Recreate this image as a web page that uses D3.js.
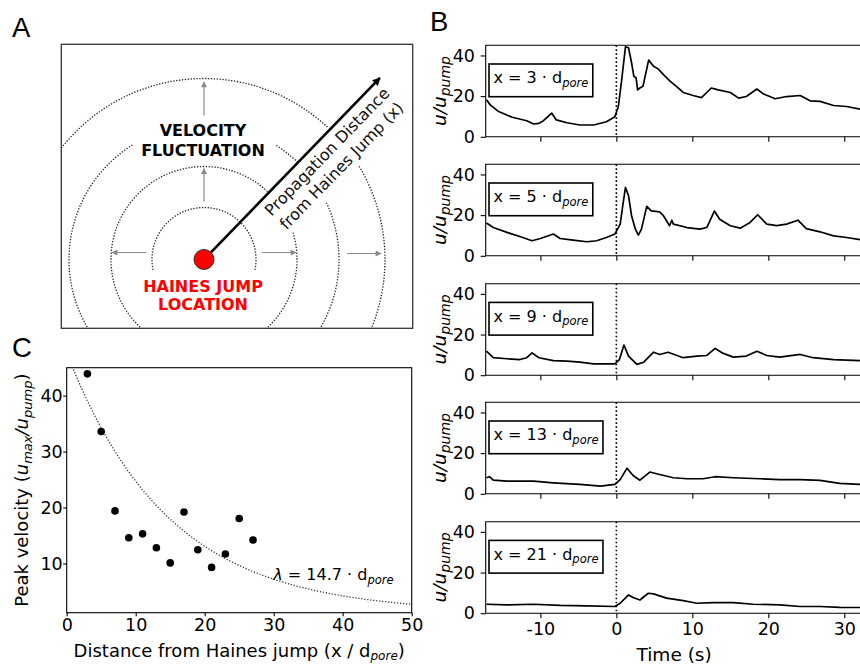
<!DOCTYPE html>
<html>
<head>
<meta charset="utf-8">
<script src="https://cdn.jsdelivr.net/npm/d3@7"></script>
<style>
  body { margin: 0; background: #fff; }
  svg { font-family: "DejaVu Sans", sans-serif; }
</style>
</head>
<body>
<script>
// ---- data ----
// panel B: velocity traces (time s, u/u_pump), one per distance
const trace3 = [[-17.1,18.2],[-16.6,15.7],[-15.5,12.4],[-13.7,9.6],[-11.8,7.9],[-10.9,6.3],[-10.2,6.6],[-9.6,7.9],[-8.5,11.6],[-7.9,8.3],[-6.5,6.9],[-4.8,5.8],[-3.0,5.8],[-1.3,7.4],[-0.2,9.9],[0.26,14.9],[0.7,28],[1.2,44.3],[1.6,43.8],[2.0,36.4],[2.3,29.8],[2.6,28.9],[2.8,23.1],[3.1,24],[3.5,24.8],[4.25,37.7],[4.9,34.7],[5.5,33.4],[6.2,30.6],[7.1,27.3],[7.9,24.8],[8.8,21.8],[10.1,20.3],[11.2,19.3],[12.5,24],[13.4,23.1],[15,21.8],[16.1,19],[17.1,19.8],[18.5,23.5],[19.3,21.2],[20.9,18.7],[22.4,19.8],[24.2,20.3],[25.5,17.7],[26.8,17.4],[28.6,15.4],[30.3,14.9],[32.1,13.6]];
const trace5 = [[-17.1,16.1],[-16.2,13.9],[-14.4,11.5],[-12.7,9.5],[-11.1,7.4],[-10.0,8.5],[-8.3,10.7],[-7.4,8.5],[-5.7,7.7],[-3.9,6.9],[-2.6,7.4],[-1.3,9.0],[-0.2,10.7],[0.5,15.6],[0.9,26.2],[1.2,33.6],[1.6,29.5],[2.0,19.7],[2.5,13.1],[2.9,10.2],[3.3,13.1],[4.0,24.3],[4.6,22.1],[5.7,21.6],[6.2,19.7],[7.0,14.8],[7.3,17.5],[7.5,15.6],[9.3,13.9],[11.0,13.1],[11.9,13.9],[12.9,22],[13.6,18],[15,14.8],[16.3,13.6],[17.6,16.4],[18.6,20.2],[19.8,15.6],[21.1,14.8],[22.4,15.6],[23.9,17.5],[25,13.4],[26.8,11.8],[28.6,9.8],[30.3,9.0],[32.1,7.9]];
const trace9 = [[-17.1,11.8],[-16.2,8.6],[-14.4,8.1],[-12.7,7.7],[-11.8,8.6],[-11.1,11],[-10.2,8.6],[-8.3,7.2],[-6.5,6.9],[-4.8,6.4],[-3.0,5.6],[-1.3,5.6],[-0.2,5.6],[0.4,7.7],[1.0,14.8],[1.6,9.4],[2.7,5.3],[3.6,6.4],[4.9,11.3],[5.7,10.2],[6.8,11.3],[8.8,8.6],[10.6,9.4],[11.9,9.7],[13.0,13.2],[13.9,11],[15.4,8.9],[17.1,9.4],[18.5,11.8],[19.8,9.7],[21.5,8.9],[24.2,10.2],[25.9,8.6],[28.6,7.7],[32.1,7.2]];
const trace13 = [[-17.1,7.9],[-16.7,8.4],[-16.2,6.7],[-14.4,6.2],[-10.9,6.2],[-8.3,5.4],[-4.8,4.6],[-2.1,3.8],[-0.2,4.6],[0.5,7.0],[1.4,12.6],[2.2,9.0],[3.1,6.7],[4.4,10.7],[5.7,9.5],[7.5,7.9],[9.3,7.4],[11.4,7.4],[13.0,8.4],[15.4,7.9],[18.9,7.4],[21.5,7.0],[24.2,7.0],[26.8,6.6],[29.4,5.1],[32.1,4.6]];
const trace21 = [[-17.1,4.4],[-14.4,4.1],[-10.9,4.4],[-7.4,3.8],[-3.9,3.6],[-0.2,3.3],[0.5,4.9],[1.6,9.0],[2.2,7.7],[3.1,6.5],[4.2,9.8],[4.9,9.5],[6.6,7.4],[8.8,6.2],[10.6,4.9],[12.8,5.2],[15.4,5.2],[18.0,4.4],[21.5,4.1],[24.2,3.3],[26.8,3.3],[29.4,2.9],[32.1,2.8]];
const traceDistances = ["3", "5", "9", "13", "21"];
const timeTicks = [-10, 0, 10, 20, 30];
const velTicks = [0, 20, 40];

// panel C: peak velocity vs distance
const distances = [3, 5, 7, 9, 11, 13, 15, 17, 19, 21, 23, 25, 27];
const peakVel = [43.9, 33.6, 19.4, 14.6, 15.3, 12.8, 10.1, 19.2, 12.45, 9.3, 11.7, 18.05, 14.2];
const distTicks = [0, 10, 20, 30, 40, 50];
const peakTicks = [10, 20, 30, 40];
// exponential fit  y = A exp(-x / lambda) + c
const fitA = 46.5, fitLambda = 14.7, fitC = 1.15;

// panel A schematic: rings (radius, drawn angle ranges in degrees ccw from +x)
const ringRadii = [52, 93, 135, 181];
const ringSegments = [[[-11.6, 191.6]], [[47, 377.7]], [[46, 58], [122, 385.5]], [[47, 391.5]]];

const width = 860, height = 665;
const svg = d3.select("body").append("svg").attr("width", width).attr("height", height);

// subscript helper
function rich(sel, parts, size, subSize) {
  let down = false;
  parts.forEach(p => {
    const ts = sel.append("tspan").text(p.t);
    if (p.sub) {
      ts.attr("font-size", subSize).attr("dy", down ? 0 : subSize * 0.32);
      down = true;
    } else {
      ts.attr("font-size", size).attr("dy", down ? -subSize * 0.32 : 0);
      down = false;
    }
    if (p.it) ts.attr("font-style", "italic");
  });
}

// panel letters
[["A", 12, 37], ["B", 430, 31], ["C", 12, 357]].forEach(d => {
  svg.append("text").attr("x", d[1]).attr("y", d[2]).attr("font-size", 27.5)
    .attr("font-family", "Liberation Sans, Arial, sans-serif").text(d[0]);
});

// ================= panel A =================
const boxA = { x0: 61.3, y0: 44.3, x1: 412.7, y1: 328.3 };
const cx = 204, cy = 259.5;
const gA = svg.append("g");
const defs = svg.append("defs");
defs.append("clipPath").attr("id", "clipA").append("rect")
  .attr("x", boxA.x0).attr("y", boxA.y0).attr("width", boxA.x1 - boxA.x0).attr("height", boxA.y1 - boxA.y0);

defs.append("marker").attr("id", "greyHead").attr("viewBox", "0 0 10 10")
  .attr("refX", 9).attr("refY", 5).attr("markerWidth", 7).attr("markerHeight", 6)
  .attr("markerUnits", "userSpaceOnUse").attr("orient", "auto")
  .append("path").attr("d", "M0,0L10,5L0,10z").attr("fill", "#8a8a8a");
defs.append("marker").attr("id", "blackHead").attr("viewBox", "0 0 10 10")
  .attr("refX", 9).attr("refY", 5).attr("markerWidth", 13).attr("markerHeight", 8)
  .attr("markerUnits", "userSpaceOnUse").attr("orient", "auto")
  .append("path").attr("d", "M0,0L10,5L0,10z").attr("fill", "#000");

const rad = a => a * Math.PI / 180;
const rings = gA.append("g").attr("clip-path", "url(#clipA)");
ringRadii.forEach((r, i) => {
  ringSegments[i].forEach(seg => {
    const p = d3.path();
    p.moveTo(cx + r * Math.cos(rad(seg[0])), cy - r * Math.sin(rad(seg[0])));
    p.arc(cx, cy, r, -rad(seg[0]), -rad(seg[1]), true);
    rings.append("path").attr("d", p.toString()).attr("fill", "none")
      .attr("stroke", "#222").attr("stroke-width", 1.3).attr("stroke-dasharray", "1.3 1.6");
  });
});

// grey outward arrows: [angle, r0, r1, yShift]
const spreadArrows = [[90, 58, 91, 0], [90, 144, 177.6, 0], [180, 58, 92, -7], [0, 58, 92, -7], [0, 143, 177, -6]];
spreadArrows.forEach(a => {
  gA.append("line")
    .attr("x1", cx + a[1] * Math.cos(rad(a[0]))).attr("y1", cy + a[3] - a[1] * Math.sin(rad(a[0])))
    .attr("x2", cx + a[2] * Math.cos(rad(a[0]))).attr("y2", cy + a[3] - a[2] * Math.sin(rad(a[0])))
    .attr("stroke", "#8a8a8a").attr("stroke-width", 1.2).attr("marker-end", "url(#greyHead)");
});

// propagation arrow
const arrowAngle = 45.9, arrowStart = 10, arrowEnd = 252.8;
const dirX = Math.cos(rad(arrowAngle)), dirY = -Math.sin(rad(arrowAngle));
gA.append("line")
  .attr("x1", cx + arrowStart * dirX).attr("y1", cy + arrowStart * dirY)
  .attr("x2", cx + arrowEnd * dirX).attr("y2", cy + arrowEnd * dirY)
  .attr("stroke", "#000").attr("stroke-width", 2.6).attr("marker-end", "url(#blackHead)");

gA.append("circle").attr("cx", cx).attr("cy", cy).attr("r", 10)
  .attr("fill", "#ff0000").attr("stroke", "#333").attr("stroke-width", 1);

gA.append("rect").attr("x", boxA.x0).attr("y", boxA.y0)
  .attr("width", boxA.x1 - boxA.x0).attr("height", boxA.y1 - boxA.y0)
  .attr("fill", "none").attr("stroke", "#333").attr("stroke-width", 1.3);

[["VELOCITY", 136], ["FLUCTUATION", 156]].forEach(d => {
  gA.append("text").attr("x", 203).attr("y", d[1]).attr("text-anchor", "middle")
    .attr("font-size", 16).attr("font-weight", "bold").attr("fill", "#000").text(d[0]);
});
[["HAINES JUMP", 291.7], ["LOCATION", 310]].forEach(d => {
  gA.append("text").attr("x", 203).attr("y", d[1]).attr("text-anchor", "middle")
    .attr("font-size", 16).attr("font-weight", "bold").attr("fill", "#ff0000").text(d[0]);
});
const nX = Math.sin(rad(arrowAngle)), nY = Math.cos(rad(arrowAngle));
[["Propagation Distance", 19], ["from Haines Jump (x)", 39]].forEach(d => {
  const px = cx + 163 * dirX + d[1] * nX, py = cy + 163 * dirY + d[1] * nY;
  gA.append("text").attr("transform", `translate(${px},${py}) rotate(${-arrowAngle})`)
    .attr("text-anchor", "middle").attr("font-size", 16).attr("fill", "#111").text(d[0]);
});

// ================= panel B =================
const bLeft = 485.7, bRight = 861, bH = 91.5;
const bTops = [45.3, 164.3, 283.7, 402.3, 521.7];
const traces = [trace3, trace5, trace9, trace13, trace21];
const xB = d3.scaleLinear().domain([-17.2, 32.2]).range([bLeft, bRight]);

traces.forEach((tr, i) => {
  const top = bTops[i];
  const yB = d3.scaleLinear().domain([0, 45]).range([top + bH, top]);
  const g = svg.append("g");

  g.append("line").attr("x1", xB(0)).attr("x2", xB(0)).attr("y1", top).attr("y2", top + bH)
    .attr("stroke", "#000").attr("stroke-width", 1.6).attr("stroke-dasharray", "1.6 2.4");

  const line = d3.line().x(d => xB(d[0])).y(d => yB(d[1]));
  g.append("path").datum(tr).attr("d", line).attr("fill", "none")
    .attr("stroke", "#000").attr("stroke-width", 1.7).attr("stroke-linejoin", "round");

  // frame (right side runs off the page)
  g.append("path").attr("d", `M${bRight + 5},${top}H${bLeft}V${top + bH}H${bRight + 5}`)
    .attr("fill", "none").attr("stroke", "#000").attr("stroke-width", 1.1);

  const ax = g.append("g").attr("transform", `translate(0,${top + bH})`)
    .call(d3.axisBottom(xB).tickValues(timeTicks).tickSize(5).tickPadding(4.7)
      .tickFormat(i === traces.length - 1 ? (d => String(d)) : ""));
  const ay = g.append("g").attr("transform", `translate(${bLeft},0)`)
    .call(d3.axisLeft(yB).tickValues(velTicks).tickSize(5).tickPadding(5.7));
  [ax, ay].forEach(a => {
    a.select(".domain").remove();
    a.selectAll("line").attr("stroke", "#000").attr("stroke-width", 1.1);
    a.selectAll("text").attr("font-size", 17.5).attr("font-family", "DejaVu Sans").attr("fill", "#000");
  });

  // y label
  const yl = g.append("text").attr("transform", `translate(445.5,${top + bH / 2}) rotate(-90)`)
    .attr("text-anchor", "middle").attr("fill", "#000");
  rich(yl, [{ t: "u/u", it: true }, { t: "pump", sub: true, it: true }], 18.5, 14);

  // inset label box
  const boxRect = g.append("rect").attr("x", 489).attr("y", top + 18.7).attr("height", 32.7)
    .attr("fill", "#fff").attr("stroke", "#000").attr("stroke-width", 1.6);
  const lt = g.append("text").attr("x", 493.5).attr("y", top + 38).attr("fill", "#000");
  rich(lt, [{ t: `x = ${traceDistances[i]} · d` }, { t: "pore", sub: true, it: true }], 16, 11.5);
  const bb = lt.node().getBBox();
  boxRect.attr("width", bb.x + bb.width + 4.5 - 489);
});

svg.append("text").attr("x", xB(7.6)).attr("y", 660.5).attr("text-anchor", "middle")
  .attr("font-size", 18.5).attr("fill", "#000").text("Time (s)");

// ================= panel C =================
const cL = 66.7, cR = 411.7, cT = 367.7, cB = 612.7;
const xC = d3.scaleLinear().domain([0, 50]).range([cL, cR]);
const yC = d3.scaleLinear().domain([1.2, 45]).range([cB, cT]);
const gC = svg.append("g");
defs.append("clipPath").attr("id", "clipC").append("rect")
  .attr("x", cL).attr("y", cT).attr("width", cR - cL).attr("height", cB - cT);

const fitX = d3.range(0, 50.01, 0.5);
gC.append("path").datum(fitX).attr("clip-path", "url(#clipC)")
  .attr("d", d3.line().x(d => xC(d)).y(d => yC(fitA * Math.exp(-d / fitLambda) + fitC)))
  .attr("fill", "none").attr("stroke", "#333").attr("stroke-width", 1.3).attr("stroke-dasharray", "1.2 1.8");

gC.selectAll("circle").data(distances).join("circle")
  .attr("cx", d => xC(d)).attr("cy", (d, i) => yC(peakVel[i])).attr("r", 3.8).attr("fill", "#000");

gC.append("rect").attr("x", cL).attr("y", cT).attr("width", cR - cL).attr("height", cB - cT)
  .attr("fill", "none").attr("stroke", "#000").attr("stroke-width", 1.1);

const cax = gC.append("g").attr("transform", `translate(0,${cB})`)
  .call(d3.axisBottom(xC).tickValues(distTicks).tickSize(3.5).tickPadding(2.8));
const cay = gC.append("g").attr("transform", `translate(${cL},0)`)
  .call(d3.axisLeft(yC).tickValues(peakTicks).tickSize(3.5).tickPadding(0.5));
[cax, cay].forEach(a => {
  a.select(".domain").remove();
  a.selectAll("line").attr("stroke", "#000").attr("stroke-width", 1.1);
  a.selectAll("text").attr("font-size", 17.5).attr("font-family", "DejaVu Sans").attr("fill", "#000");
});

const lam = gC.append("text").attr("x", 273.3).attr("y", 580).attr("fill", "#000");
rich(lam, [{ t: "λ", it: true }, { t: " = 14.7 · d" }, { t: "pore", sub: true, it: true }], 16, 11.5);

const xl = gC.append("text").attr("x", (cL + cR) / 2).attr("y", 656.5).attr("text-anchor", "middle").attr("fill", "#000");
rich(xl, [{ t: "Distance from Haines jump (x / d" }, { t: "pore", sub: true, it: true }, { t: ")" }], 18, 12);

const ylc = gC.append("text").attr("transform", `translate(28.3,${(cT + cB) / 2}) rotate(-90)`)
  .attr("text-anchor", "middle").attr("fill", "#000");
rich(ylc, [{ t: "Peak velocity (" }, { t: "u", it: true }, { t: "max", sub: true, it: true },
  { t: "/u", it: true }, { t: "pump", sub: true, it: true }, { t: ")" }], 18, 13);
</script>
</body>
</html>
